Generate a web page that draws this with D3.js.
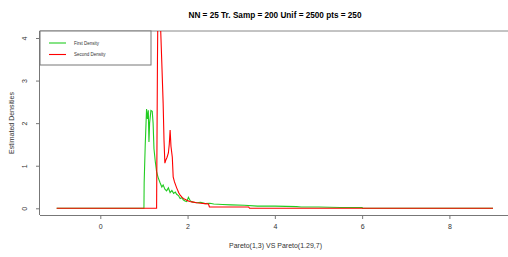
<!DOCTYPE html>
<html>
  <head>
    <meta charset="utf-8">
    <script src="https://d3js.org/d3.v7.min.js"></script>
    <style>
    body{margin:0; background:white;}
    svg{display:block; font-family:"Liberation Sans", Arial, sans-serif;}
    </style>
  </head>
  <body>
    <script>
    // first density (x, y)
    var firstX = [-1, 1.0, 1.005, 1.03, 1.06, 1.08, 1.1, 1.115, 1.13, 1.16, 1.19, 1.21, 1.23, 1.26, 1.29, 1.31, 1.33, 1.37, 1.41, 1.44, 1.48, 1.52, 1.56, 1.6, 1.64, 1.68, 1.72, 1.75, 1.79, 1.83, 1.87, 1.9, 1.94, 1.98, 2.02, 2.06, 2.1, 2.2, 2.3, 2.4, 2.51, 2.6, 2.8, 3.0, 3.3, 3.6, 4.0, 4.5, 4.6, 5.0, 5.5, 6.0, 6.01, 9];
    var firstY = [0, 0, 0.6, 1.5, 2.33, 2.1, 2.3, 1.56, 2.0, 2.3, 2.28, 2.0, 1.4, 1.1, 0.86, 0.78, 0.71, 0.6, 0.5, 0.55, 0.45, 0.41, 0.48, 0.37, 0.42, 0.35, 0.38, 0.33, 0.3, 0.23, 0.25, 0.2, 0.17, 0.16, 0.26, 0.18, 0.15, 0.13, 0.14, 0.11, 0.12, 0.1, 0.09, 0.08, 0.07, 0.05, 0.05, 0.04, 0.03, 0.03, 0.02, 0.02, 0, 0];

    // second density (x, y)
    var secondX = [-1, 1.29, 1.31, 1.33, 1.35, 1.38, 1.41, 1.44, 1.46, 1.48, 1.5, 1.53, 1.56, 1.58, 1.6, 1.62, 1.65, 1.67, 1.7, 1.75, 1.8, 1.83, 1.88, 1.94, 2.0, 2.05, 2.1, 2.21, 2.3, 2.4, 2.48, 2.5, 3.0, 3.4, 3.42, 9];
    var secondY = [0, 0, 3.5, 5.8, 5.2, 4.3, 3.4, 2.47, 1.6, 1.06, 1.13, 1.2, 1.3, 1.5, 1.84, 1.45, 1.2, 0.74, 0.62, 0.48, 0.36, 0.31, 0.25, 0.21, 0.18, 0.16, 0.15, 0.13, 0.12, 0.11, 0.1, 0.03, 0.03, 0.03, 0, 0];

    var xTicks = [0, 2, 4, 6, 8];
    var yTicks = [0, 1, 2, 3, 4];
    var legendLabels = ["First Density", "Second Density"];
    var colors = ["#22cc22", "#ff0000"];

    var width = 508, height = 257;
    var margin = {top: 31, left: 40, bottom: 42};

    var svg = d3.select("body").append("svg").attr("width", width).attr("height", height);

    // scales
    var x = d3.scaleLinear().domain([0, 8]).range([100.3, 449.4]);
    var y = d3.scaleLinear().domain([0, 4]).range([208.3, 38]);

    svg.append("clipPath").attr("id", "plotclip")
      .append("rect").attr("x", margin.left).attr("y", margin.top)
      .attr("width", width - margin.left).attr("height", 215 - margin.top);

    // title
    svg.append("text").attr("x", 275).attr("y", 17.5).attr("text-anchor", "middle")
      .style("font-size", "8.2px").style("font-weight", "bold")
      .text("NN = 25 Tr. Samp = 200 Unif = 2500 pts = 250");

    // top line
    svg.append("line").attr("x1", margin.left).attr("x2", width)
      .attr("y1", margin.top).attr("y2", margin.top)
      .attr("stroke", "#888").attr("stroke-width", 1);

    // x axis
    var xAxis = svg.append("g").attr("transform", "translate(0,215)")
      .call(d3.axisBottom(x).tickValues(xTicks).tickSize(4).tickPadding(5).tickFormat(d3.format("d")));
    xAxis.select(".domain").attr("d", "M" + margin.left + ",0.5H" + width).attr("stroke", "#777");
    xAxis.selectAll(".tick line").attr("stroke", "#777");
    xAxis.selectAll("text").style("font-size", "7px").attr("fill", "#333");

    // y axis
    var yAxis = svg.append("g").attr("transform", "translate(" + margin.left + ",0)")
      .call(d3.axisLeft(y).tickValues(yTicks).tickSize(4).tickFormat(d3.format("d")));
    yAxis.select(".domain").attr("d", "M-0.5," + margin.top + "V215").attr("stroke", "#777");
    yAxis.selectAll(".tick line").attr("stroke", "#777");
    yAxis.selectAll("text").style("font-size", "7px").attr("fill", "#333")
      .attr("text-anchor", "middle").attr("x", 0).attr("dy", 0)
      .attr("transform", "translate(-13,0) rotate(-90)");

    // axis labels
    svg.append("text").attr("x", 275.5).attr("y", 248).attr("text-anchor", "middle")
      .style("font-size", "7px").attr("fill", "#333")
      .text("Pareto(1,3) VS Pareto(1.29,7)");
    svg.append("text").attr("transform", "translate(14,123) rotate(-90)").attr("text-anchor", "middle")
      .style("font-size", "7px").attr("fill", "#333")
      .text("Estimated Densities");

    // lines
    var line = d3.line().x(function(d){ return x(d[0]); }).y(function(d){ return y(d[1]); });
    var plot = svg.append("g").attr("clip-path", "url(#plotclip)");
    plot.append("path").datum(d3.zip(firstX, firstY)).attr("d", line)
      .attr("fill", "none").attr("stroke", colors[0]).attr("stroke-width", 1.1);
    plot.append("path").datum(d3.zip(secondX, secondY)).attr("d", line)
      .attr("fill", "none").attr("stroke", colors[1]).attr("stroke-width", 1.1);

    // legend
    var legend = svg.append("g");
    legend.append("rect").attr("x", margin.left).attr("y", margin.top)
      .attr("width", 111).attr("height", 34)
      .attr("fill", "white").attr("stroke", "#777").attr("stroke-width", 1);
    legendLabels.forEach(function(lab, i){
      var ly = 43 + i * 11.5;
      legend.append("line").attr("x1", 49).attr("x2", 66).attr("y1", ly).attr("y2", ly)
        .attr("stroke", colors[i]).attr("stroke-width", 1.1);
      legend.append("text").attr("x", 74).attr("y", ly + 1.7)
        .style("font-size", "4.5px").attr("fill", "#333").text(lab);
    });
    </script>
  </body>
</html>
